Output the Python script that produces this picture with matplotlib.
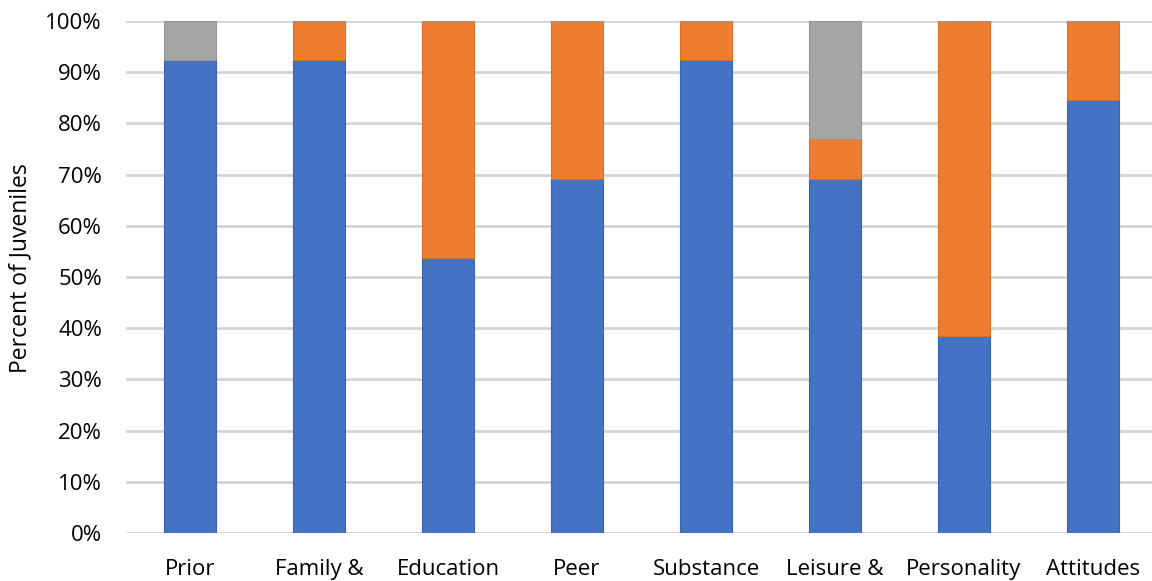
import matplotlib
matplotlib.use("Agg")
import matplotlib.pyplot as plt
from matplotlib.ticker import PercentFormatter, MultipleLocator

plt.rcParams['font.family'] = ['Open Sans', 'DejaVu Sans']

categories = ["Prior", "Family &", "Education", "Peer", "Substance",
              "Leisure &", "Personality", "Attitudes"]
low = [92.3, 92.3, 53.8, 69.2, 92.3, 69.2, 38.5, 84.6]
moderate = [0.0, 7.7, 46.2, 30.8, 7.7, 7.7, 61.5, 15.4]
high = [7.7, 0.0, 0.0, 0.0, 0.0, 23.1, 0.0, 0.0]

blue = "#4472C4"
orange = "#ED7D31"
gray = "#A5A5A5"

W, H = 1152, 581
fig = plt.figure(figsize=(W / 100, H / 100), dpi=100)
ax = fig.add_axes([125.5 / W, (H - 533) / H, 1032 / W, 512 / H])

x = list(range(len(categories)))
bw = 0.40
ax.bar(x, low, width=bw, color=blue, edgecolor="#3A64B0", linewidth=0.8, zorder=3)
ax.bar(x, moderate, width=bw, bottom=low, color=orange, edgecolor="#DC6E25",
       linewidth=0.8, zorder=3)
bottom2 = [a + b for a, b in zip(low, moderate)]
ax.bar(x, high, width=bw, bottom=bottom2, color=gray, edgecolor="#969696",
       linewidth=0.8, zorder=3)

ax.set_xlim(-0.5, len(categories) - 0.5)
ax.set_ylim(0, 100)
ax.yaxis.set_major_locator(MultipleLocator(10))
ax.yaxis.set_major_formatter(PercentFormatter(decimals=0))
ax.grid(axis="y", color="#D4D4D4", linewidth=2.0, zorder=0)
ax.set_axisbelow(True)
for s in ax.spines.values():
    s.set_visible(False)
ax.tick_params(axis="both", length=0, labelsize=16, colors="#000000")
ax.tick_params(axis="y", pad=17)
ax.tick_params(axis="x", pad=19)
ax.set_xticks(x)
ax.set_xticklabels(categories)

fig.text(20 / W, (H - 268) / H, "Percent of Juveniles", rotation=90,
         ha="center", va="center", fontsize=16.5)

fig.savefig("out.png", dpi=100)
